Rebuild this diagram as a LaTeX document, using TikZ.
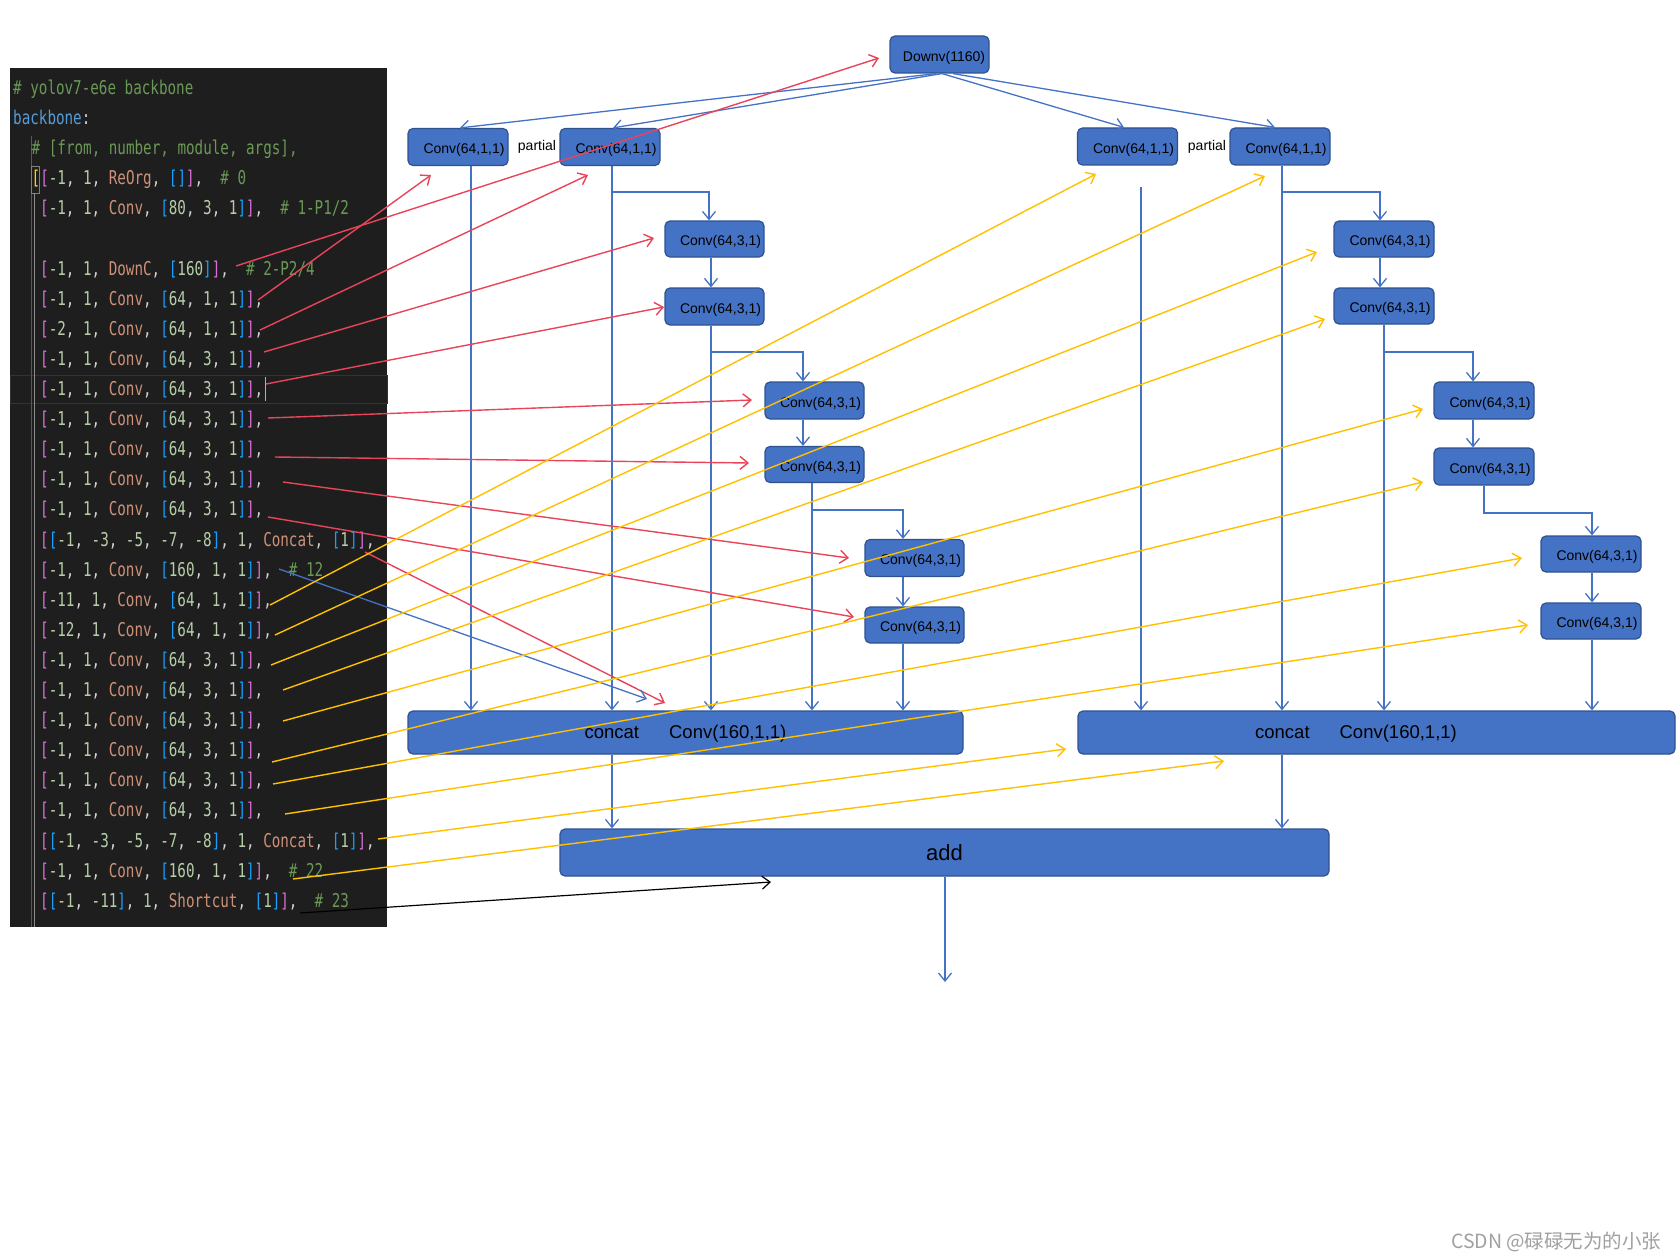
\documentclass[tikz,border=0pt]{standalone}
\usepackage{fontspec}
\usetikzlibrary{arrows.meta}
\setmainfont{Liberation Sans}
\newfontfamily\codefont[FakeStretch=0.75]{DejaVu Sans Mono}
\newfontfamily\cjkfont{Noto Sans CJK SC}
\definecolor{codebg}{HTML}{1E1E1E}
\definecolor{ctext}{HTML}{D4D4D4}
\definecolor{ccom}{HTML}{6A9955}
\definecolor{ckey}{HTML}{569CD6}
\definecolor{cnum}{HTML}{B5CEA8}
\definecolor{cmod}{HTML}{CE9178}
\definecolor{cbrY}{HTML}{FFD700}
\definecolor{cbrP}{HTML}{DA70D6}
\definecolor{cbrB}{HTML}{179FFF}
\definecolor{boxfill}{HTML}{4472C4}
\definecolor{boxdraw}{HTML}{2F528F}
\definecolor{lblue}{HTML}{4472C4}
\definecolor{lred}{HTML}{E8455A}
\definecolor{lyel}{HTML}{FFC000}
\definecolor{wmgray}{HTML}{A0A0A0}
\newcommand\codeC[1]{\textcolor{ccom}{#1}}
\newcommand\codeN[1]{\textcolor{cnum}{#1}}
\newcommand\codeM[1]{\textcolor{cmod}{#1}}
\newcommand\codeP[1]{\textcolor{cbrP}{#1}}
\newcommand\codeB[1]{\textcolor{cbrB}{#1}}
\newcommand\codeY[1]{\textcolor{cbrY}{#1}}
\newcommand\codeConv[4]{\codeP{[}\codeN{#1}, \codeN{1}, \codeM{Conv}, \codeB{[}\codeN{#2}, \codeN{#3}, \codeN{#4}\codeB{]}\codeP{]},}
\newcommand\codeCat{\codeP{[}\codeB{[}\codeN{-1}, \codeN{-3}, \codeN{-5}, \codeN{-7}, \codeN{-8}\codeB{]}, \codeN{1}, \codeM{Concat}, \codeB{[}\codeN{1}\codeB{]}\codeP{]},}
\begin{document}
\begin{tikzpicture}[x=1pt,y=-1pt,
  box/.style={draw=boxdraw, fill=boxfill, rounded corners=5pt, line width=1.2pt, inner sep=1pt, font=\fontsize{14}{16}\selectfont, text=black, text height=13.5pt, text depth=0pt},
  bl/.style={draw=lblue, line width=1.3pt},
  barb/.style={-{Straight Barb[length=8pt,width=13pt]}},
  redl/.style={draw=lred, line width=1.4pt, barb},
  yell/.style={draw=lyel, line width=1.4pt, barb},
  codeln/.style={anchor=base west, inner sep=0pt, font=\codefont\fontsize{19}{21}\selectfont, text=ctext}]
\useasboundingbox (0,0) rectangle (1680,1260);
\fill[white] (0,0) rectangle (1680,1260);
% code panel
\fill[codebg] (10,68) rectangle (387,927);
\draw[color=black!80!white, line width=0.8pt] (10,375) rectangle (387,403);
\draw[color=black!65!white, line width=1pt] (31.5,136) -- (31.5,927);
\draw[color=black!50!white, line width=0.8pt] (31,166) rectangle (39.5,193);
\draw[color=black!45!white, line width=0.8pt] (34,193) -- (34,927);
\node[codeln] (k0) at (13,94.5) {\codeC{\# yolov7-e6e backbone}};
\node[codeln] (k1) at (13,124.6) {\textcolor{ckey}{backbone}:};
\node[codeln] (k2) at (31.5,154.7) {\codeC{\# [from, number, module, args],}};
\node[codeln] (k3) at (31.5,184.8) {\codeY{[}\codeP{[}\codeN{-1}, \codeN{1}, \codeM{ReOrg}, \codeB{[]}\codeP{]},~~\codeC{\# 0}};
\node[codeln] (k4) at (40,214.9) {\codeConv{-1}{80}{3}{1}~~\codeC{\# 1-P1/2}};
\node[codeln] (k6) at (40,275.1) {\codeP{[}\codeN{-1}, \codeN{1}, \codeM{DownC}, \codeB{[}\codeN{160}\codeB{]}\codeP{]},~~\codeC{\# 2-P2/4}};
\node[codeln] (k7) at (40,305.2) {\codeConv{-1}{64}{1}{1}};
\node[codeln] (k8) at (40,335.3) {\codeConv{-2}{64}{1}{1}};
\node[codeln] (k9) at (40,365.4) {\codeConv{-1}{64}{3}{1}};
\node[codeln] (k10) at (40,395.5) {\codeConv{-1}{64}{3}{1}};
\node[codeln] (k11) at (40,425.6) {\codeConv{-1}{64}{3}{1}};
\node[codeln] (k12) at (40,455.7) {\codeConv{-1}{64}{3}{1}};
\node[codeln] (k13) at (40,485.8) {\codeConv{-1}{64}{3}{1}};
\node[codeln] (k14) at (40,515.9) {\codeConv{-1}{64}{3}{1}};
\node[codeln] (k15) at (40,546.0) {\codeCat};
\node[codeln] (k16) at (40,576.1) {\codeConv{-1}{160}{1}{1}~~\codeC{\# 12}};
\node[codeln] (k17) at (40,606.2) {\codeConv{-11}{64}{1}{1}};
\node[codeln] (k18) at (40,636.3) {\codeConv{-12}{64}{1}{1}};
\node[codeln] (k19) at (40,666.4) {\codeConv{-1}{64}{3}{1}};
\node[codeln] (k20) at (40,696.5) {\codeConv{-1}{64}{3}{1}};
\node[codeln] (k21) at (40,726.6) {\codeConv{-1}{64}{3}{1}};
\node[codeln] (k22) at (40,756.7) {\codeConv{-1}{64}{3}{1}};
\node[codeln] (k23) at (40,786.8) {\codeConv{-1}{64}{3}{1}};
\node[codeln] (k24) at (40,816.9) {\codeConv{-1}{64}{3}{1}};
\node[codeln] (k25) at (40,847.0) {\codeCat};
\node[codeln] (k26) at (40,877.1) {\codeConv{-1}{160}{1}{1}~~\codeC{\# 22}};
\node[codeln] (k27) at (40,907.2) {\codeP{[}\codeB{[}\codeN{-1}, \codeN{-11}\codeB{]}, \codeN{1}, \codeM{Shortcut}, \codeB{[}\codeN{1}\codeB{]}\codeP{]},~~\codeC{\# 23}};
\draw[color=black!30!white, line width=1pt] (265,377) -- (265,401);
% boxes
\node[box, minimum width=99pt, minimum height=37pt] (down) at (939.5,54.5) {\hspace{9pt}Downv(1160)};
\node[box, minimum width=100pt, minimum height=37pt] (c1a) at (458,147) {\hspace{12pt}Conv(64,1,1)};
\node[box, minimum width=100pt, minimum height=37pt] (c1b) at (610,147) {\hspace{12pt}Conv(64,1,1)};
\node[box, minimum width=100pt, minimum height=37pt] (c2a) at (1127.5,146.5) {\hspace{12pt}Conv(64,1,1)};
\node[box, minimum width=100pt, minimum height=37pt] (c2b) at (1280,146.5) {\hspace{12pt}Conv(64,1,1)};
\node[font=\fontsize{14}{16}\selectfont] (p1) at (537,147) {partial};
\node[font=\fontsize{14}{16}\selectfont] (p2) at (1207,147) {partial};
\node[box, minimum width=99pt, minimum height=36pt] (l1) at (714.5,239) {\hspace{12pt}Conv(64,3,1)};
\node[box, minimum width=99pt, minimum height=37pt] (l2) at (714.5,306.5) {\hspace{12pt}Conv(64,3,1)};
\node[box, minimum width=99pt, minimum height=37pt] (l3) at (814.5,400.5) {\hspace{12pt}Conv(64,3,1)};
\node[box, minimum width=99pt, minimum height=36pt] (l4) at (814.5,464.5) {\hspace{12pt}Conv(64,3,1)};
\node[box, minimum width=99pt, minimum height=37pt] (l5) at (914.5,558) {\hspace{12pt}Conv(64,3,1)};
\node[box, minimum width=99pt, minimum height=36pt] (l6) at (914.5,625) {\hspace{12pt}Conv(64,3,1)};
\node[box, minimum width=100pt, minimum height=36pt] (r1) at (1384,239) {\hspace{12pt}Conv(64,3,1)};
\node[box, minimum width=100pt, minimum height=36pt] (r2) at (1384,306) {\hspace{12pt}Conv(64,3,1)};
\node[box, minimum width=100pt, minimum height=37pt] (r3) at (1484,400.5) {\hspace{12pt}Conv(64,3,1)};
\node[box, minimum width=100pt, minimum height=37pt] (r4) at (1484,466.5) {\hspace{12pt}Conv(64,3,1)};
\node[box, minimum width=100pt, minimum height=36pt] (r5) at (1591,554) {\hspace{12pt}Conv(64,3,1)};
\node[box, minimum width=100pt, minimum height=36pt] (r6) at (1591,621) {\hspace{12pt}Conv(64,3,1)};
\node[box, minimum width=555pt, minimum height=43pt, font=\fontsize{18.5}{20}\selectfont, text height=12pt] (ca) at (685.5,732.5) {concat\hspace{30pt}Conv(160,1,1)};
\node[box, minimum width=597pt, minimum height=43pt, font=\fontsize{18.5}{20}\selectfont, text height=12pt] (cb) at (1376.5,732.5) {concat\hspace{30pt}Conv(160,1,1)\kern41pt};
\node[box, minimum width=769pt, minimum height=47pt, font=\fontsize{22}{24}\selectfont, text height=15pt] (add) at (944.5,852.5) {add};
\node[anchor=east, text=wmgray, font=\cjkfont\fontsize{19.5}{21}\selectfont] (wm) at (1665,1242) {CSDN @碌碌无为的小张};
% column / row coordinates
\coordinate (xa) at (471,0);
\coordinate (xb) at (612,0);
\coordinate (xc1) at (709,0);
\coordinate (xc) at (711,0);
\coordinate (xd1) at (803,0);
\coordinate (xd) at (812,0);
\coordinate (xe) at (903,0);
\coordinate (xf) at (1141,0);
\coordinate (xg) at (1282,0);
\coordinate (xh1) at (1380,0);
\coordinate (xh) at (1384,0);
\coordinate (xi1) at (1473,0);
\coordinate (xi) at (1484,0);
\coordinate (xj) at (1592,0);
\coordinate (xo) at (945,0);
\coordinate (y1) at (0,192);
\coordinate (y2) at (0,352);
\coordinate (y3) at (0,510);
\coordinate (y4) at (0,513);
\coordinate (c2astart) at (1141,187);
\coordinate (outend) at (945,982);
% blue tree
\draw[bl,barb] ([xshift=-3.5pt]down.south) -- ([xshift=2pt]c1a.north);
\draw[bl,barb] ([xshift=2.5pt]down.south) -- ([xshift=3pt]c1b.north);
\draw[bl,barb] ([xshift=2.5pt]down.south) -- ([xshift=-3.5pt]c2a.north);
\draw[bl,barb] ([xshift=13.5pt]down.south) -- ([xshift=-5pt]c2b.north);
\draw[bl,barb] (c1a.south -| xa) -- (ca.north -| xa);
\draw[bl,barb] (c1b.south -| xb) -- (ca.north -| xb);
\draw[bl,barb] (xb |- y1) -- (xc1 |- y1) -- (l1.north -| xc1);
\draw[bl,barb] (l1.south -| xc) -- (l2.north -| xc);
\draw[bl,barb] (l2.south -| xc) -- (ca.north -| xc);
\draw[bl,barb] (xc |- y2) -- (xd1 |- y2) -- (l3.north -| xd1);
\draw[bl,barb] (l3.south -| xd1) -- (l4.north -| xd1);
\draw[bl,barb] (l4.south -| xd) -- (ca.north -| xd);
\draw[bl,barb] (xd |- y3) -- (xe |- y3) -- (l5.north -| xe);
\draw[bl,barb] (l5.south -| xe) -- (l6.north -| xe);
\draw[bl,barb] (l6.south -| xe) -- (ca.north -| xe);
\draw[bl,barb] (ca.south -| xb) -- (add.north -| xb);
\draw[bl,barb] (add.south -| xo) -- (outend);
\draw[bl,barb] (c2astart) -- (cb.north -| xf);
\draw[bl,barb] (c2b.south -| xg) -- (cb.north -| xg);
\draw[bl,barb] (xg |- y1) -- (xh1 |- y1) -- (r1.north -| xh1);
\draw[bl,barb] (r1.south -| xh1) -- (r2.north -| xh1);
\draw[bl,barb] (r2.south -| xh) -- (cb.north -| xh);
\draw[bl,barb] (xh |- y2) -- (xi1 |- y2) -- (r3.north -| xi1);
\draw[bl,barb] (r3.south -| xi1) -- (r4.north -| xi1);
\draw[bl,barb] (r4.south -| xi) -- (xi |- y4) -- (xj |- y4) -- (r5.north -| xj);
\draw[bl,barb] (r5.south -| xj) -- (r6.north -| xj);
\draw[bl,barb] (r6.south -| xj) -- (cb.north -| xj);
\draw[bl,barb] (cb.south -| xg) -- (add.north -| xg);
% code-line starts and tips
\coordinate (s6) at (236,266);  \coordinate (t6) at (879,58);
\coordinate (s7) at (258,300);  \coordinate (t7) at (431,175);
\coordinate (s8) at (260,330);  \coordinate (t8) at (588,175);
\coordinate (s9) at (264,352);  \coordinate (t9) at (654,238);
\coordinate (s10) at (266,384); \coordinate (t10) at (664,307);
\coordinate (s11) at (268,418); \coordinate (t11) at (752,400);
\coordinate (s12) at (275,457); \coordinate (t12) at (749,463);
\coordinate (s13) at (283,482); \coordinate (t13) at (849,558);
\coordinate (s14) at (268,517); \coordinate (t14) at (854,617);
\coordinate (s15) at (365,552); \coordinate (t15) at (665,703);
\coordinate (s16) at (279,569); \coordinate (t16) at (647,699);
\coordinate (s17) at (270,605); \coordinate (t17) at (1096,174);
\coordinate (s18) at (275,635); \coordinate (t18) at (1265,176);
\coordinate (s19) at (271,665); \coordinate (t19) at (1317,252);
\coordinate (s20) at (283,690); \coordinate (t20) at (1325,319);
\coordinate (s21) at (283,721); \coordinate (t21) at (1423,409);
\coordinate (s22) at (272,762); \coordinate (t22) at (1423,482);
\coordinate (s23) at (273,784); \coordinate (t23) at (1522,558);
\coordinate (s24) at (285,814); \coordinate (t24) at (1528,625);
\coordinate (s25) at (378,839); \coordinate (t25) at (1066,749);
\coordinate (s26) at (293,879); \coordinate (t26) at (1224,761);
\coordinate (s27) at (300,913); \coordinate (t27) at (771,882);
\foreach \i in {6,...,15} {\draw[redl] (s\i) -- (t\i);}
\draw[bl,barb] (s16) -- (t16);
\foreach \i in {17,...,26} {\draw[yell] (s\i) -- (t\i);}
\draw[black, line width=1.2pt, barb] (s27) -- (t27);
\end{tikzpicture}
\end{document}
